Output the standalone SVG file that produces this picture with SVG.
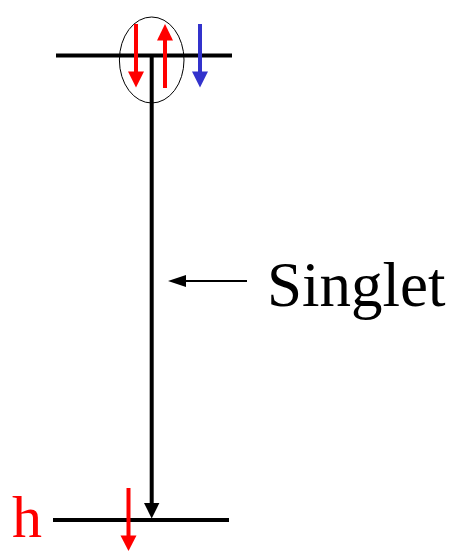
<svg xmlns="http://www.w3.org/2000/svg" width="452" height="551" viewBox="0 0 452 551">
<style>
.lvl{stroke:#000;stroke-width:4;fill:none}
.red{stroke:#ff0000;stroke-width:4}
.redf{fill:#ff0000}
.blue{stroke:#3333cc;stroke-width:4}
.bluef{fill:#3333cc}
</style>
<rect width="452" height="551" fill="#fff"/>
<g id="upper-level">
<line class="lvl" x1="56" y1="55.5" x2="232" y2="55.5"/>
<ellipse cx="151.7" cy="60" rx="32.3" ry="43" fill="none" stroke="#000" stroke-width="1"/>
<line class="red" x1="136" y1="24" x2="136" y2="73"/>
<polygon class="redf" points="128,71.5 144,71.5 136,87.5"/>
<line class="red" x1="165" y1="88" x2="165" y2="39"/>
<polygon class="redf" points="157,40.5 173,40.5 165,24"/>
<line class="blue" x1="200" y1="24" x2="200" y2="73"/>
<polygon class="bluef" points="192,71.5 208,71.5 200,87.5"/>
</g>
<g id="lower-level">
<line class="lvl" x1="53" y1="520" x2="229" y2="520"/>
<line class="red" x1="128.5" y1="488" x2="128.5" y2="537"/>
<polygon class="redf" points="120.5,535.5 136.5,535.5 128.5,551"/>
<text x="12" y="537" font-family="'Liberation Serif', serif" font-size="60" fill="#ff0000">h</text>
</g>
<g id="label">
<text x="267" y="306" font-family="'Liberation Serif', serif" font-size="63" fill="#000">Singlet</text>
</g>
<g id="connectors">
<line x1="151.7" y1="55" x2="151.7" y2="505" stroke="#000" stroke-width="4"/>
<polygon points="144,503 159.4,503 151.7,518.5" fill="#000"/>
<line x1="182" y1="281" x2="247" y2="281" stroke="#000" stroke-width="2"/>
<polygon points="168,281 186,275 186,287" fill="#000"/>
</g>
</svg>
